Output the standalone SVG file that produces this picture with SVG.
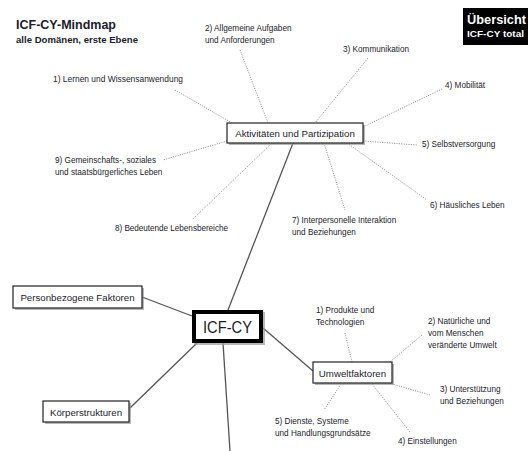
<svg xmlns="http://www.w3.org/2000/svg" width="530" height="451" viewBox="0 0 530 451">
<style>
text{font-family:"Liberation Sans",Arial,sans-serif;fill:#1c1c2c}
.lbl{font-size:8.2px}
.box{font-size:9.7px}
.solid{stroke:#555;stroke-width:1.3;fill:none}
.dot{stroke:#8a8a8a;stroke-width:1;stroke-dasharray:1 1.4;fill:none}
.node{fill:#fff;stroke:#222;stroke-width:1.2}
.shadow{fill:#9a9a9a;opacity:.7}
</style>
<rect width="530" height="451" fill="#fff"/>
<g id="title">
<text x="16" y="29" font-size="13.5" font-weight="bold" textLength="100" lengthAdjust="spacingAndGlyphs">ICF-CY-Mindmap</text>
<text x="16" y="43" font-size="9.6" font-weight="bold" textLength="122" lengthAdjust="spacingAndGlyphs">alle Domänen, erste Ebene</text>
</g>
<g id="uebersicht">
<rect x="463" y="8" width="65" height="37" fill="#000"/>
<text x="467" y="24" font-size="13" font-weight="bold" style="fill:#fff" textLength="59" lengthAdjust="spacingAndGlyphs">Übersicht</text>
<text x="467" y="37" font-size="9" font-weight="bold" style="fill:#fff" textLength="57" lengthAdjust="spacingAndGlyphs">ICF-CY  total</text>
</g>
<g id="connectors">
<line class="solid" x1="228" y1="310" x2="293" y2="143"/>
<line class="solid" x1="142" y1="297" x2="192" y2="316"/>
<line class="solid" x1="130" y1="408" x2="197" y2="343"/>
<line class="solid" x1="223" y1="343" x2="230" y2="451"/>
<line class="solid" x1="263" y1="328" x2="313" y2="371"/>
<line class="dot" x1="175" y1="90" x2="232" y2="123"/>
<line class="dot" x1="240" y1="50" x2="268" y2="123"/>
<line class="dot" x1="368" y1="58" x2="315" y2="123"/>
<line class="dot" x1="442" y1="89" x2="363" y2="127"/>
<line class="dot" x1="363" y1="141" x2="417" y2="145"/>
<line class="dot" x1="347" y1="143" x2="427" y2="200"/>
<line class="dot" x1="324" y1="143" x2="345" y2="210"/>
<line class="dot" x1="272" y1="143" x2="193" y2="219"/>
<line class="dot" x1="227" y1="141" x2="163" y2="160"/>
<line class="dot" x1="345" y1="333" x2="352" y2="362"/>
<line class="dot" x1="422" y1="335" x2="390" y2="362"/>
<line class="dot" x1="392" y1="384" x2="430" y2="395"/>
<line class="dot" x1="372" y1="384" x2="410" y2="432"/>
<line class="dot" x1="341" y1="384" x2="324" y2="410"/>
</g>
<g id="aktivitaeten">
<rect class="shadow" x="229" y="125" width="136" height="20"/>
<rect class="node" x="227" y="123" width="136" height="20"/>
<text class="box" x="295" y="137" text-anchor="middle">Aktivitäten und Partizipation</text>
</g>
<g id="icfcy">
<rect class="shadow" x="194" y="312" width="71" height="33"/>
<rect x="194" y="312" width="67" height="29" fill="#fff" stroke="#000" stroke-width="4"/>
<text x="227.5" y="333" font-size="16" text-anchor="middle" textLength="49" lengthAdjust="spacingAndGlyphs">ICF-CY</text>
</g>
<g id="umweltfaktoren">
<rect class="shadow" x="315" y="364" width="79" height="21"/>
<rect class="node" x="313" y="362" width="79" height="21"/>
<text class="box" x="352.5" y="377" text-anchor="middle">Umweltfaktoren</text>
</g>
<g id="personbezogene">
<rect class="shadow" x="15" y="288" width="129" height="22"/>
<rect class="node" x="13" y="286" width="129" height="22"/>
<text class="box" x="77.5" y="300.5" text-anchor="middle">Personbezogene Faktoren</text>
</g>
<g id="koerperstrukturen">
<rect class="shadow" x="45" y="403" width="86" height="21"/>
<rect class="node" x="43" y="401" width="86" height="21"/>
<text class="box" x="86" y="415.5" text-anchor="middle">Körperstrukturen</text>
</g>
<g id="a1"><text class="lbl" x="53" y="82" textLength="130" lengthAdjust="spacingAndGlyphs">1) Lernen und Wissensanwendung</text></g>
<g id="a2"><text class="lbl" x="205" y="31">2) Allgemeine Aufgaben</text><text class="lbl" x="205" y="43">und Anforderungen</text></g>
<g id="a3"><text class="lbl" x="343" y="52">3) Kommunikation</text></g>
<g id="a4"><text class="lbl" x="445" y="88">4) Mobilität</text></g>
<g id="a5"><text class="lbl" x="422" y="147">5) Selbstversorgung</text></g>
<g id="a6"><text class="lbl" x="430" y="208">6) Häusliches Leben</text></g>
<g id="a7"><text class="lbl" x="292" y="223">7) Interpersonelle Interaktion</text><text class="lbl" x="292" y="235">und Beziehungen</text></g>
<g id="a8"><text class="lbl" x="115" y="231" textLength="113" lengthAdjust="spacing">8) Bedeutende Lebensbereiche</text></g>
<g id="a9"><text class="lbl" x="55" y="163">9) Gemeinschafts-, soziales</text><text class="lbl" x="55" y="175">und staatsbürgerliches Leben</text></g>
<g id="u1"><text class="lbl" x="316" y="313">1) Produkte und</text><text class="lbl" x="316" y="325">Technologien</text></g>
<g id="u2"><text class="lbl" x="428" y="324">2) Natürliche und</text><text class="lbl" x="428" y="336">vom Menschen</text><text class="lbl" x="428" y="348">veränderte Umwelt</text></g>
<g id="u3"><text class="lbl" x="440" y="392">3) Unterstützung</text><text class="lbl" x="440" y="404">und Beziehungen</text></g>
<g id="u4"><text class="lbl" x="398" y="444">4) Einstellungen</text></g>
<g id="u5"><text class="lbl" x="275" y="424">5) Dienste, Systeme</text><text class="lbl" x="275" y="436">und Handlungsgrundsätze</text></g>
</svg>
